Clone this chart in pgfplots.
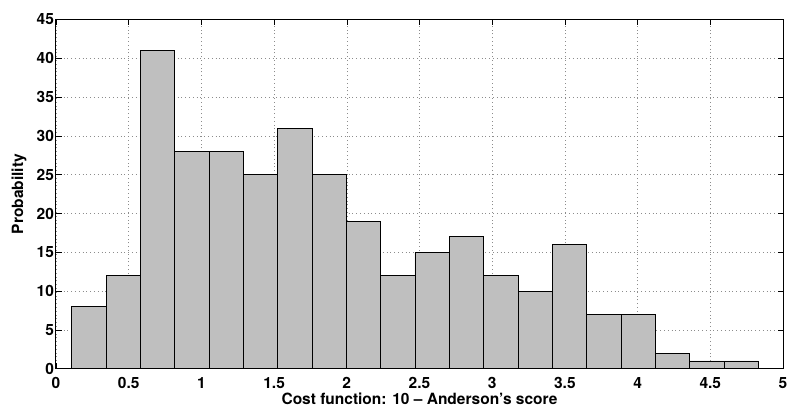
\documentclass[border=0pt]{standalone}
\usepackage{fontspec}
\setmainfont{TeX Gyre Heros}
\usepackage{pgfplots}
\pgfplotsset{compat=1.18}
\begin{document}
\begin{tikzpicture}
\begin{axis}[
  width=727pt, height=349.2pt, scale only axis,
  xmin=0, xmax=5, ymin=0, ymax=45,
  xtick={0,0.5,...,5}, ytick={0,5,...,45},
  xticklabels={0,0.5,1,1.5,2,2.5,3,3.5,4,4.5,5},
  tick align=inside, major tick length=5.5pt,
  tick style={black, line width=0.6pt},
  axis line style={black, line width=1pt},
  grid=major,
  major grid style={black!45, line width=0.6pt, dash pattern=on 0.8pt off 3pt},
  /pgf/number format/assume math mode=true,
  ticklabel style={font=\fontsize{15.5}{17}\selectfont\bfseries},
  xticklabel style={anchor=base, yshift=-20.3pt},
  yticklabel style={anchor=east, xshift=1.5pt},
  label style={font=\fontsize{15.5}{17}\selectfont\bfseries},
  xlabel={Cost function: 10 – Anderson’s score},
  ylabel={Probability},
  xlabel style={at={(axis description cs:0.5,-0.1011)}, anchor=base},
  ylabel style={at={(axis description cs:-0.0509,0.5)}, anchor=center},
]
\addplot[ybar interval, fill={rgb,255:red,191;green,191;blue,191}, draw=black, line width=0.8pt] coordinates {
(0.1080,8) (0.3441,12) (0.5802,41) (0.8163,28) (1.0524,28)
(1.2885,25) (1.5246,31) (1.7607,25) (1.9968,19) (2.2329,12)
(2.4690,15) (2.7051,17) (2.9412,12) (3.1773,10) (3.4134,16)
(3.6495,7) (3.8856,7) (4.1217,2) (4.3578,1) (4.5939,1)
(4.8300,1)
};
\end{axis}
\pgfresetboundingbox
\path[use as bounding box] ([shift={(-56pt,-40.3pt)}]current axis.south west) rectangle ([shift={(4pt,19.5pt)}]current axis.north east);
\end{tikzpicture}
\end{document}
